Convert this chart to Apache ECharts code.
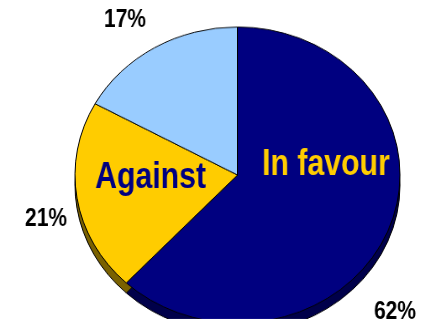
<!DOCTYPE html>
<html><head><meta charset="utf-8">
<script src="https://cdn.jsdelivr.net/npm/echarts@6/dist/echarts.min.js"></script>
<style>
html,body{margin:0;padding:0;background:#fff;}
#wrap{position:relative;width:425px;height:333px;overflow:hidden;background:#fff;}
#shapes,#labels{position:absolute;left:0;top:0;width:425px;height:333px;}
#shapes{transform-origin:237.5px 175px;transform:scaleY(0.911);}
#labels{width:520px;transform-origin:0 0;transform:scaleX(0.84);}
</style></head><body>
<div id="wrap"><div id="shapes"></div><div id="labels"></div></div>
<script>
// Data
const categories = ['In favour', 'Against', ''];
const values = [62, 21, 17];
const percentLabels = ['62%', '21%', '17%'];

// Styles
const topColors = ['#000080', '#FFCC00', '#99CCFF'];
const sideColors = ['#00004A', '#7A6100', '#4D6680'];
const nameColors = ['#FFCC00', '#000080', '#000080'];
const CX = 237.5, CY = 175, R = 162.5, DEPTH = 11, SX = 0.84;
const FONT = '"Liberation Sans", Arial, sans-serif';
const nameOffsets = [[88.5, -9.5], [-87, 3.5], [0, 0]];
const pctOffsets = [[157.5, 137], [-191.5, 44], [-112.5, -155]];

const shapeChart = echarts.init(document.getElementById('shapes'), null, {renderer: 'canvas'});
const mk = (cols, border) => categories.map((c, i) => ({
  name: c, value: values[i],
  itemStyle: {color: cols[i], borderColor: '#000', borderWidth: border}
}));
shapeChart.setOption({
  animation: false,
  series: [
    {type: 'pie', center: [CX, CY + DEPTH], radius: R, startAngle: 90, clockwise: true,
     silent: true, label: {show: false}, labelLine: {show: false}, z: 1,
     emphasis: {disabled: true}, data: mk(sideColors, 1)},
    {type: 'pie', center: [CX, CY], radius: R, startAngle: 90, clockwise: true,
     silent: true, label: {show: false}, labelLine: {show: false}, z: 2,
     emphasis: {disabled: true}, data: mk(topColors, 1)}
  ]
});

const labelChart = echarts.init(document.getElementById('labels'), null, {renderer: 'canvas'});
const transparentData = categories.map((c, i) => ({
  name: c, value: values[i], itemStyle: {color: 'rgba(0,0,0,0)'}
}));
const place = off => p => ({
  x: (CX + off[p.dataIndex][0]) / SX, y: CY + off[p.dataIndex][1],
  align: 'center', verticalAlign: 'middle'
});
labelChart.setOption({
  animation: false,
  series: [
    {type: 'pie', center: [CX / SX, CY], radius: R, startAngle: 90, silent: true,
     avoidLabelOverlap: false, emphasis: {disabled: true},
     labelLine: {show: false},
     label: {show: true, position: 'inside', fontFamily: FONT, fontWeight: 'bold', fontSize: 36,
       formatter: p => p.name},
     data: transparentData.map((d, i) => Object.assign({}, d, {label: {color: nameColors[i]}})),
     labelLayout: place(nameOffsets)
    },
    {type: 'pie', center: [CX / SX, CY], radius: R, startAngle: 90, silent: true,
     avoidLabelOverlap: false, emphasis: {disabled: true},
     labelLine: {show: false},
     label: {show: true, position: 'outside', fontFamily: FONT, fontWeight: 'bold', fontSize: 25, color: '#000',
       formatter: p => percentLabels[p.dataIndex]},
     data: transparentData,
     labelLayout: place(pctOffsets)
    }
  ]
});
</script>
</body></html>
